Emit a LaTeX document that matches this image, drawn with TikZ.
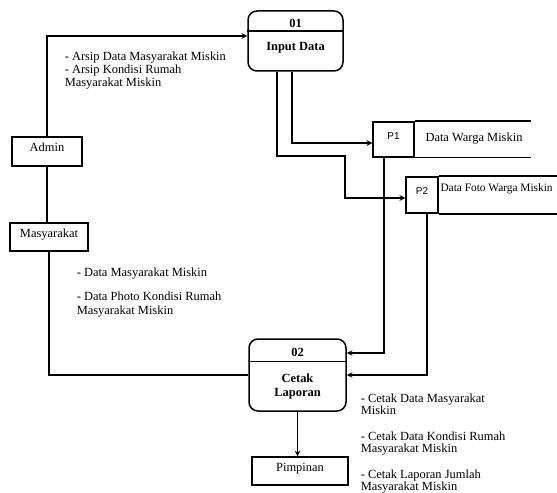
\documentclass[tikz,border=0pt]{standalone}
\usepackage{fontspec}
\setmainfont{Liberation Serif}
\newfontfamily\storefont{Liberation Sans}
\usetikzlibrary{arrows}
\usetikzlibrary{positioning}

\begin{document}
\begin{tikzpicture}[x=1bp, y=-1bp, >=stealth, line width=1.5bp,
    every node/.style={font=\fontsize{12.5}{13}\selectfont},
    entity/.style={draw, rectangle, inner sep=0pt, text height=4bp, text depth=4bp},
    proc/.style={draw, rectangle, rounded corners=9bp, inner sep=0pt},
    store/.style={draw, rectangle, inner sep=0pt, text height=4bp, text depth=4bp,
      font=\storefont\fontsize{10}{12}\selectfont},
    flowtext/.style={inner sep=0pt, align=left, anchor=north west}]
      \path[use as bounding box] (0,0) rectangle (557,493);

      % processes
      \node[proc, minimum width=95bp, minimum height=60bp] (p01) at (295.5,41) {};
      \draw ([yshift=-21bp]p01.north west) -- ([yshift=-21bp]p01.north east);
      \node (p01num) at ([yshift=-13bp]p01.north) {\bfseries 01};
      \node (p01name) at ([yshift=-38bp]p01.north) {\bfseries Input Data};

      \node[proc, minimum width=97bp, minimum height=72bp] (p02) at (297.5,375) {};
      \draw ([yshift=-23bp]p02.north west) -- ([yshift=-23bp]p02.north east);
      \node (p02num) at ([yshift=-14bp]p02.north) {\bfseries 02};
      \node[align=center, font=\bfseries\fontsize{12.5}{14}\selectfont] (p02name)
        at ([yshift=-48bp]p02.north) {Cetak\\Laporan};

      % entities
      \node[entity, minimum width=70bp, minimum height=29bp] (admin) at (47,151.5) {Admin};
      \node[entity, minimum width=78bp, minimum height=28bp] (masy) at (49,237) {Masyarakat};
      \node[entity, minimum width=96bp, minimum height=28bp] (pimp) at (300,471) {Pimpinan};

      % data stores
      \node[store, minimum width=41bp, minimum height=35bp] (d1) at (393.5,139.5) {P1};
      \draw (d1.north east) -- ++(116,0);
      \draw (d1.south east) -- ++(116,0);
      \node[anchor=west, inner sep=0pt] (d1name) at ([xshift=10bp,yshift=1bp]d1.east) {Data Warga Miskin};

      \node[store, minimum width=32bp, minimum height=36bp] (d2) at (422,195) {P2};
      \draw (d2.north east) -- ++(125,0);
      \draw (d2.south east) -- ++(125,0);
      \node[anchor=west, inner sep=0pt, font=\fontsize{11.4}{13}\selectfont] (d2name)
        at ([xshift=1bp,yshift=6bp]d2.east) {Data Foto Warga Miskin};

      % flows
      \draw[->] (admin.north) |- ([yshift=5bp]p01.west);
      \draw (admin.south) -- (admin.south |- masy.north);
      \draw (masy.south) |- (p02.west);
      \draw[->] ([xshift=-3.5bp]p01.south) |- ([yshift=-3.5bp]d1.west);
      \coordinate (jog) at (345,156);
      \draw[->] ([xshift=-18.5bp]p01.south) |- (jog) |- ([yshift=-3bp]d2.west);
      \draw[->] ([xshift=-9.5bp]d1.south) |- ([yshift=22bp]p02.east);
      \draw[->] ([xshift=5bp]d2.south) |- (p02.east);
      \draw[->] (p02.south) -- (p02.south |- pimp.north);

      % flow labels
      \node[flowtext] (arsiplbl) at (64,51) {- Arsip Data Masyarakat Miskin\\- Arsip Kondisi Rumah\\Masyarakat Miskin};
      \node[flowtext, font=\fontsize{12.5}{14}\selectfont] (datalbl) at (76,267)
        {- Data Masyarakat Miskin\\[10bp]- Data Photo Kondisi Rumah\\Masyarakat Miskin};
      \node[flowtext, font=\fontsize{12.5}{12.5}\selectfont] (cetaklbl) at (360,393)
        {- Cetak Data Masyarakat\\Miskin\\[13bp]- Cetak Data Kondisi Rumah\\Masyarakat Miskin\\[13bp]- Cetak Laporan Jumlah\\Masyarakat Miskin};
    \end{tikzpicture}
\end{document}
